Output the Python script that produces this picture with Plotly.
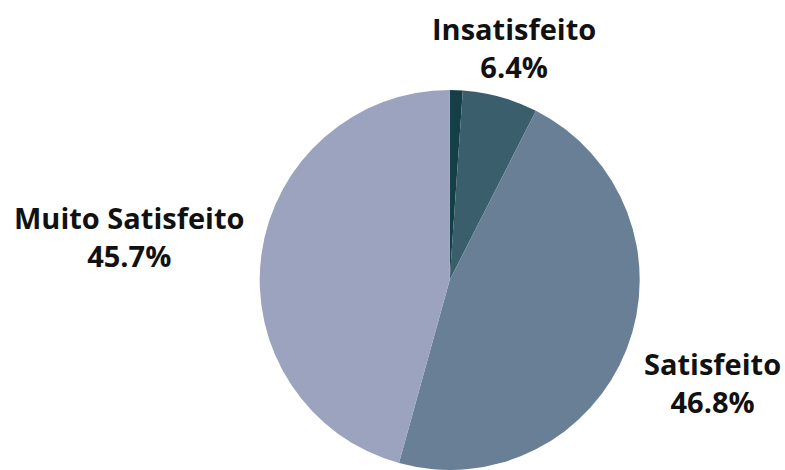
import math
import plotly.graph_objects as go

categories = ["Muito Insatisfeito", "Insatisfeito", "Satisfeito", "Muito Satisfeito"]
values = [1.1, 6.4, 46.8, 45.7]
colors = ["#143f47", "#3b5e6d", "#687f95", "#9ca3bf"]
show_label = [False, True, True, True]

# Figure geometry (pixels)
W, H = 785, 470
R = 190
CX, CY = 449.7, 280.0  # pie centre, measured from top-left

# Distance of each label centre from the pie centre, as a multiple of the radius
label_dist = {"Insatisfeito": 1.27, "Satisfeito": 1.485, "Muito Satisfeito": 1.705}

fig = go.Figure(go.Pie(
    labels=categories,
    values=values,
    sort=False,
    direction="clockwise",
    rotation=0,
    marker=dict(colors=colors, line=dict(width=0)),
    textinfo="none",
    hoverinfo="label+percent",
    showlegend=False,
    domain=dict(x=[(CX - R) / W, (CX + R) / W], y=[0.0, 2 * R / H]),
    automargin=False,
))

# Outside labels placed along each slice's mid-angle (clockwise from 12 o'clock)
total = sum(values)
cum = 0.0
for name, v, show in zip(categories, values, show_label):
    mid = (cum + v / 2) / total * 2 * math.pi
    cum += v
    if not show:
        continue
    d = R * label_dist[name]
    px = CX + d * math.sin(mid)
    py = CY - d * math.cos(mid)
    fig.add_annotation(
        x=px / W, y=1 - py / H, xref="paper", yref="paper",
        text=f"<b>{name}</b><br><b>{v / total * 100:.1f}%</b>",
        showarrow=False, align="center", xanchor="center", yanchor="middle",
        font=dict(family="Open Sans", size=29, color="#111111"),
    )

fig.update_layout(
    width=W, height=H,
    margin=dict(l=0, r=0, t=0, b=0),
    paper_bgcolor="white",
    plot_bgcolor="white",
)

fig.write_html("out.html")
